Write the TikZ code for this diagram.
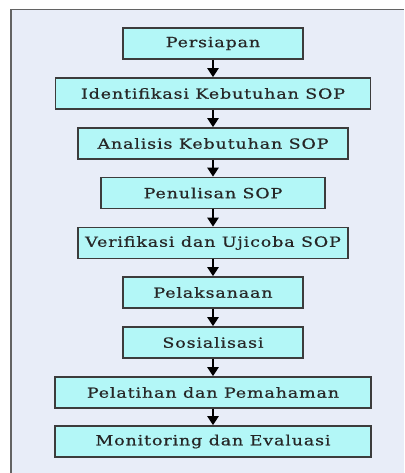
\documentclass[tikz,border=0pt]{standalone}
\usepackage{fontspec}
\setmainfont{DejaVu Serif}[LetterSpace=6,FakeStretch=1.25,FakeBold=0.6]
\usetikzlibrary{arrows.meta}
\definecolor{bgc}{HTML}{E8EDF8}
\definecolor{boxc}{HTML}{B3F7F7}
\definecolor{edgec}{HTML}{3C3C3C}
\tikzset{
  stepbox/.style={draw=edgec, line width=1.6pt, fill=boxc, minimum height=31pt,
    inner sep=0pt, font=\fontsize{14}{16}\selectfont, text=black!85},
  flow/.style={line width=2.2pt, -{Triangle[width=11pt,length=9pt]}}
}
\begin{document}
\begin{tikzpicture}[x=1pt,y=-1pt]
\useasboundingbox (0,0) rectangle (404,473);
\fill[bgc] (11,9.5) rectangle (404,473);
\draw[edgec!80, line width=1.8pt] (11,473) -- (11,9.5) -- (404,9.5);
\node[stepbox, minimum width=180pt] (n1) at (213,43.5) {Persiapan};
\node[stepbox, minimum width=315pt] (n2) at (213,93.5) {Identifikasi Kebutuhan SOP};
\node[stepbox, minimum width=270pt] (n3) at (213,143.5) {Analisis Kebutuhan SOP};
\node[stepbox, minimum width=224pt] (n4) at (213,193) {Penulisan SOP};
\node[stepbox, minimum width=270pt] (n5) at (213,243) {Verifikasi dan Ujicoba SOP};
\node[stepbox, minimum width=180pt] (n6) at (213,292.5) {Pelaksanaan};
\node[stepbox, minimum width=180pt] (n7) at (213,342.5) {Sosialisasi};
\node[stepbox, minimum width=316pt] (n8) at (213,392.5) {Pelatihan dan Pemahaman};
\node[stepbox, minimum width=316pt] (n9) at (213,441.5) {Monitoring dan Evaluasi};
\foreach \a/\b in {n1/n2,n2/n3,n3/n4,n4/n5,n5/n6,n6/n7,n7/n8,n8/n9}
  \draw[flow] (\a) -- (\b);
\end{tikzpicture}
\end{document}
